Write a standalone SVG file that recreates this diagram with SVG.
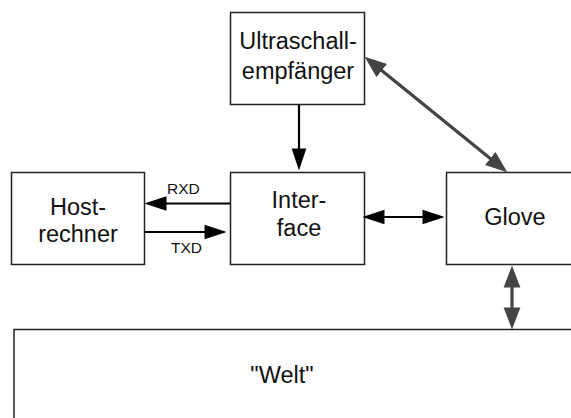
<svg xmlns="http://www.w3.org/2000/svg" width="571" height="418" viewBox="0 0 571 418">
  <style>
    .box { fill: #ffffff; stroke: #222222; stroke-width: 1.5; }
    .lbl { font-family: "Liberation Sans", Arial, Helvetica, sans-serif; font-size: 23.5px; fill: #111111; text-anchor: middle; }
    .sig { font-family: "Liberation Sans", Arial, Helvetica, sans-serif; font-size: 15.5px; fill: #111111; }
    .dark { stroke: #000000; stroke-width: 2.2; fill: none; }
    .grey { stroke: #444444; stroke-width: 3.2; fill: none; }
  </style>
  <defs>
    <marker id="headBlack" markerUnits="userSpaceOnUse" markerWidth="22" markerHeight="16" viewBox="0 0 21 14" refX="11" refY="7" orient="auto-start-reverse">
      <path d="M0,0 L21,7 L0,14 z" fill="#000000"/>
    </marker>
    <marker id="headGrey" markerUnits="userSpaceOnUse" markerWidth="22" markerHeight="18" viewBox="0 0 21 16" refX="11" refY="8" orient="auto-start-reverse">
      <path d="M0,0 L21,8 L0,16 z" fill="#444444"/>
    </marker>
  </defs>

  <g id="ultraschall">
    <rect class="box" x="230.5" y="12.5" width="134" height="92"/>
    <text class="lbl" x="298" y="49">Ultraschall-</text>
    <text class="lbl" x="298" y="79">empfänger</text>
  </g>

  <g id="host">
    <rect class="box" x="11.5" y="172.5" width="133" height="92"/>
    <text class="lbl" x="78" y="215">Host-</text>
    <text class="lbl" x="78" y="242">rechner</text>
  </g>

  <g id="interface">
    <rect class="box" x="230.5" y="172.5" width="134" height="92"/>
    <text class="lbl" x="299" y="208">Inter-</text>
    <text class="lbl" x="299" y="236">face</text>
  </g>

  <g id="glove">
    <rect class="box" x="446.5" y="172.5" width="138" height="92"/>
    <text class="lbl" x="515" y="225">Glove</text>
  </g>

  <g id="welt">
    <rect class="box" x="14" y="329.5" width="580" height="100"/>
    <text class="lbl" x="282" y="383">"Welt"</text>
  </g>

  <g id="connectors">
    <line class="dark" x1="299" y1="105" x2="299" y2="160" marker-end="url(#headBlack)"/>
    <line class="dark" x1="230" y1="203.5" x2="155" y2="203.5" marker-end="url(#headBlack)"/>
    <line class="dark" x1="145" y1="232" x2="216" y2="232" marker-end="url(#headBlack)"/>
    <line class="dark" x1="373" y1="217" x2="434" y2="217" marker-start="url(#headBlack)" marker-end="url(#headBlack)"/>
    <line class="grey" x1="372.8" y1="63.3" x2="499.2" y2="165.7" marker-start="url(#headGrey)" marker-end="url(#headGrey)"/>
    <line class="grey" x1="512" y1="276" x2="512" y2="319" marker-start="url(#headGrey)" marker-end="url(#headGrey)"/>
    <text class="sig" x="167" y="194">RXD</text>
    <text class="sig" x="171" y="253">TXD</text>
  </g>
</svg>
